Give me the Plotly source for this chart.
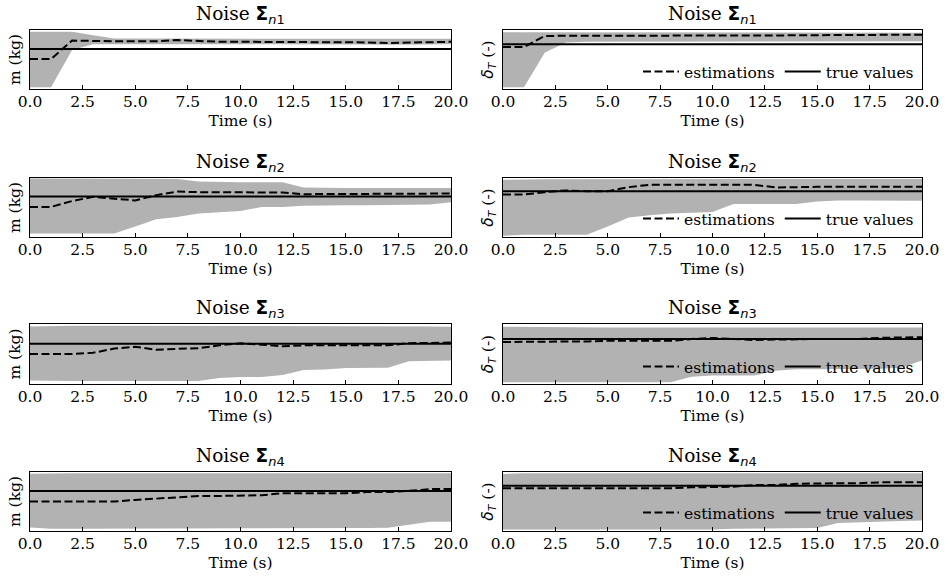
import plotly.graph_objects as go

# ---------------- data (normalised units) ----------------
time_s = [0, 1, 2, 3, 4, 5, 6, 7, 8, 9, 10, 11, 12, 13, 14, 15, 16, 17, 18, 19, 20]
x_ticks = [0.0, 2.5, 5.0, 7.5, 10.0, 12.5, 15.0, 17.5, 20.0]

# Noise n1
m_n1_true = 0.68
m_n1_est = [0.51, 0.51, 0.82, 0.81, 0.81, 0.81, 0.81, 0.83, 0.81, 0.80, 0.80, 0.80, 0.80, 0.80, 0.80, 0.80, 0.79, 0.78, 0.79, 0.795, 0.80]
m_n1_up = [0.97, 0.97, 0.97, 0.91, 0.855, 0.855, 0.855, 0.855, 0.855, 0.855, 0.855, 0.855, 0.855, 0.855, 0.86, 0.85, 0.85, 0.85, 0.85, 0.85, 0.85]
m_n1_lo = [0.03, 0.03, 0.66, 0.76, 0.76, 0.76, 0.76, 0.765, 0.76, 0.76, 0.76, 0.76, 0.76, 0.76, 0.76, 0.76, 0.755, 0.75, 0.755, 0.76, 0.76]
d_n1_true = 0.76
d_n1_est = [0.71, 0.71, 0.90, 0.90, 0.90, 0.90, 0.90, 0.90, 0.90, 0.905, 0.905, 0.905, 0.91, 0.91, 0.91, 0.91, 0.915, 0.915, 0.92, 0.92, 0.92]
d_n1_up = [0.96, 0.96, 0.96, 0.955, 0.955, 0.955, 0.955, 0.955, 0.955, 0.955, 0.955, 0.955, 0.955, 0.955, 0.955, 0.955, 0.955, 0.955, 0.955, 0.955, 0.955]
d_n1_lo = [0.03, 0.03, 0.62, 0.79, 0.80, 0.80, 0.80, 0.80, 0.80, 0.80, 0.80, 0.80, 0.80, 0.80, 0.80, 0.80, 0.80, 0.80, 0.81, 0.81, 0.81]

# Noise n2
m_n2_true = 0.686
m_n2_est = [0.51, 0.51, 0.61, 0.68, 0.65, 0.62, 0.71, 0.77, 0.76, 0.76, 0.76, 0.766, 0.754, 0.726, 0.726, 0.726, 0.726, 0.726, 0.726, 0.73, 0.737]
m_n2_up = [0.99, 0.99, 0.99, 0.99, 0.99, 0.99, 0.99, 0.985, 0.94, 0.93, 0.93, 0.93, 0.93, 0.84, 0.83, 0.83, 0.83, 0.83, 0.83, 0.83, 0.83]
m_n2_lo = [0.06, 0.06, 0.06, 0.06, 0.06, 0.18, 0.30, 0.34, 0.40, 0.42, 0.44, 0.51, 0.51, 0.53, 0.54, 0.54, 0.54, 0.54, 0.54, 0.55, 0.59]
d_n2_true = 0.776
d_n2_est = [0.72, 0.72, 0.76, 0.79, 0.776, 0.776, 0.845, 0.885, 0.885, 0.885, 0.885, 0.885, 0.885, 0.84, 0.85, 0.85, 0.85, 0.85, 0.85, 0.85, 0.85]
d_n2_up = [0.97, 0.98, 0.98, 0.98, 0.98, 0.98, 0.98, 0.98, 0.985, 0.985, 0.985, 0.985, 0.985, 0.985, 0.985, 0.985, 0.985, 0.985, 0.985, 0.985, 0.985]
d_n2_lo = [0.02, 0.04, 0.04, 0.04, 0.04, 0.18, 0.33, 0.37, 0.40, 0.41, 0.425, 0.56, 0.56, 0.56, 0.56, 0.60, 0.62, 0.62, 0.62, 0.62, 0.615]

# Noise n3
m_n3_true = 0.67
m_n3_est = [0.50, 0.50, 0.50, 0.52, 0.59, 0.62, 0.57, 0.585, 0.596, 0.645, 0.68, 0.656, 0.63, 0.645, 0.645, 0.645, 0.645, 0.645, 0.68, 0.69, 0.69]
m_n3_up = [0.96, 0.97, 0.97, 0.97, 0.97, 0.97, 0.97, 0.97, 0.97, 0.97, 0.97, 0.97, 0.97, 0.97, 0.97, 0.97, 0.97, 0.97, 0.965, 0.96, 0.955]
m_n3_lo = [0.06, 0.05, 0.05, 0.05, 0.05, 0.05, 0.05, 0.05, 0.05, 0.10, 0.115, 0.115, 0.15, 0.235, 0.24, 0.265, 0.265, 0.27, 0.38, 0.39, 0.39]
d_n3_true = 0.75
d_n3_est = [0.70, 0.70, 0.70, 0.71, 0.71, 0.72, 0.72, 0.72, 0.72, 0.75, 0.767, 0.75, 0.733, 0.74, 0.75, 0.75, 0.75, 0.75, 0.77, 0.78, 0.78]
d_n3_up = [0.955, 0.95, 0.945, 0.94, 0.94, 0.94, 0.94, 0.94, 0.94, 0.94, 0.94, 0.94, 0.94, 0.94, 0.94, 0.94, 0.94, 0.94, 0.94, 0.94, 0.94]
d_n3_lo = [0.03, 0.03, 0.03, 0.03, 0.03, 0.03, 0.03, 0.03, 0.03, 0.12, 0.14, 0.14, 0.14, 0.22, 0.245, 0.245, 0.245, 0.255, 0.255, 0.27, 0.39]

# Noise n4
m_n4_true = 0.68
m_n4_est = [0.50, 0.50, 0.50, 0.50, 0.50, 0.526, 0.55, 0.58, 0.594, 0.594, 0.594, 0.606, 0.64, 0.64, 0.64, 0.64, 0.66, 0.66, 0.68, 0.71, 0.71]
m_n4_up = [0.97, 0.98, 0.98, 0.98, 0.98, 0.98, 0.98, 0.98, 0.98, 0.98, 0.98, 0.98, 0.98, 0.98, 0.98, 0.98, 0.98, 0.98, 0.98, 0.98, 0.98]
m_n4_lo = [0.06, 0.04, 0.04, 0.04, 0.04, 0.04, 0.04, 0.04, 0.04, 0.04, 0.04, 0.04, 0.04, 0.04, 0.04, 0.045, 0.05, 0.055, 0.10, 0.155, 0.155]
d_n4_true = 0.766
d_n4_est = [0.725, 0.725, 0.725, 0.725, 0.725, 0.725, 0.725, 0.725, 0.725, 0.74, 0.75, 0.75, 0.78, 0.78, 0.80, 0.81, 0.81, 0.81, 0.825, 0.825, 0.825]
d_n4_up = [0.965, 0.98, 0.98, 0.98, 0.98, 0.98, 0.98, 0.98, 0.98, 0.98, 0.98, 0.98, 0.98, 0.98, 0.98, 0.98, 0.98, 0.98, 0.98, 0.98, 0.98]
d_n4_lo = [0.025, 0.025, 0.025, 0.025, 0.025, 0.025, 0.025, 0.025, 0.025, 0.025, 0.025, 0.04, 0.045, 0.05, 0.05, 0.05, 0.135, 0.15, 0.16, 0.17, 0.18]

noise_labels = ["1", "2", "3", "4"]
panels = [
    (m_n1_true, m_n1_est, m_n1_up, m_n1_lo), (d_n1_true, d_n1_est, d_n1_up, d_n1_lo),
    (m_n2_true, m_n2_est, m_n2_up, m_n2_lo), (d_n2_true, d_n2_est, d_n2_up, d_n2_lo),
    (m_n3_true, m_n3_est, m_n3_up, m_n3_lo), (d_n3_true, d_n3_est, d_n3_up, d_n3_lo),
    (m_n4_true, m_n4_est, m_n4_up, m_n4_lo), (d_n4_true, d_n4_est, d_n4_up, d_n4_lo),
]

# ---------------- layout geometry (page pixels) ----------------
W, H = 946, 576
col_px = [(30, 451), (503, 922)]
row_px = [(30, 89), (178, 237), (324, 384), (472, 531)]
legend_y_px = [72, 219, 367, 513]
legend_right_px = 919

SERIF = "DejaVu Serif"
MATH = "DejaVu Sans"
FILL = "rgb(178,178,178)"
FS = 15.5


def px_x(p):
    return p / W


def px_y(p):
    return 1 - p / H


fig = go.Figure()
layout = {}
annotations = []

for i, (tv, est, up, lo) in enumerate(panels):
    r, c = divmod(i, 2)
    idx = i + 1
    xa = "x" if idx == 1 else f"x{idx}"
    ya = "y" if idx == 1 else f"y{idx}"
    leg = "legend" if r == 0 else f"legend{r + 1}"
    true_line = [tv] * len(time_s)

    fig.add_trace(go.Scatter(x=time_s, y=lo, mode="lines", line=dict(width=0),
                             showlegend=False, hoverinfo="skip", xaxis=xa, yaxis=ya))
    fig.add_trace(go.Scatter(x=time_s, y=up, mode="lines", line=dict(width=0),
                             fill="tonexty", fillcolor=FILL,
                             showlegend=False, hoverinfo="skip", xaxis=xa, yaxis=ya))
    fig.add_trace(go.Scatter(x=time_s, y=est, mode="lines", name="estimations",
                             line=dict(color="black", width=2, dash="8px,3.5px"),
                             showlegend=(c == 1), legend=leg, xaxis=xa, yaxis=ya))
    fig.add_trace(go.Scatter(x=time_s, y=true_line, mode="lines", name="true values",
                             line=dict(color="black", width=2),
                             showlegend=(c == 1), legend=leg, xaxis=xa, yaxis=ya))

    x0, x1 = col_px[c]
    y0, y1 = row_px[r]
    xkey = "xaxis" if idx == 1 else f"xaxis{idx}"
    ykey = "yaxis" if idx == 1 else f"yaxis{idx}"
    layout[xkey] = dict(
        domain=[px_x(x0), px_x(x1)], anchor=ya, range=[0, 20],
        tickvals=x_ticks, ticktext=[f"{v:.1f}" for v in x_ticks],
        ticks="inside", ticklen=4, tickwidth=1, tickcolor="black",
        ticklabelstandoff=-2,
        showline=True, linecolor="black", linewidth=1, mirror=True,
        showgrid=False, zeroline=False,
        tickfont=dict(family=SERIF, size=FS, color="black"),
        title=dict(text="Time (s)", font=dict(family=SERIF, size=FS, color="black"), standoff=5),
        automargin=False,
    )
    ylabel = "m (kg)" if c == 0 else f'<span style="font-family:{MATH}"><i>δ</i><sub><i>T</i></sub></span> (-)'
    layout[ykey] = dict(
        domain=[px_y(y1), px_y(y0)], anchor=xa, range=[0, 1],
        showticklabels=False, ticks="",
        showline=True, linecolor="black", linewidth=1, mirror=True,
        showgrid=False, zeroline=False,
        title=dict(text=ylabel, font=dict(family=SERIF, size=FS, color="black"), standoff=4),
        automargin=False,
    )
    annotations.append(dict(
        text=f'Noise <span style="font-family:{MATH}"><b>Σ</b><sub><i>n</i>{noise_labels[r]}</sub></span>',
        xref="paper", yref="paper", x=px_x((x0 + x1) / 2), y=px_y(y0),
        xanchor="center", yanchor="bottom", yshift=1, showarrow=False,
        font=dict(family=SERIF, size=18.5, color="black"),
    ))
    if c == 1:
        layout[leg] = dict(
            x=px_x(legend_right_px), y=px_y(legend_y_px[r]), xanchor="right", yanchor="middle",
            orientation="h", bgcolor="rgba(0,0,0,0)", borderwidth=0,
            font=dict(family=SERIF, size=FS, color="black"),
            itemwidth=36, tracegroupgap=0, traceorder="normal",
        )

fig.update_layout(
    width=W, height=H,
    margin=dict(l=0, r=0, t=0, b=0),
    paper_bgcolor="white", plot_bgcolor="white",
    annotations=annotations,
    **layout,
)

fig.write_html(
    "out.html",
    config={"displayModeBar": False, "staticPlot": True},
    post_script="document.body.style.margin='0';document.body.style.overflow='hidden';",
)
